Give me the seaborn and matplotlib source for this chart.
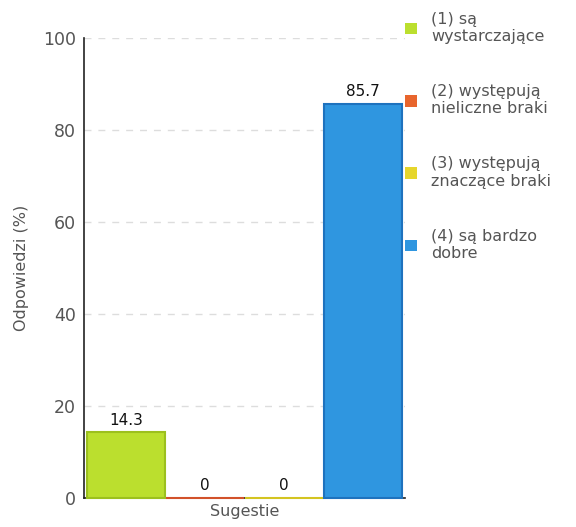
import pandas as pd
import matplotlib.pyplot as plt
import seaborn as sns
from matplotlib.patches import Patch
from matplotlib.ticker import MultipleLocator

categories = ['Sugestie']
answers = ['(1) są\nwystarczające', '(2) występują\nnieliczne braki',
           '(3) występują\nznaczące braki', '(4) są bardzo\ndobre']
values = [14.3, 0, 0, 85.7]
labels = ['14.3', '0', '0', '85.7']
colors = ['#BBDF2E', '#E8652D', '#E6D62C', '#2F96E0']
edges = ['#9CC01E', '#D2522A', '#D4C420', '#1E72BE']

df = pd.DataFrame({'kat': categories * len(answers), 'odp': answers, 'val': values})

sns.set_style('white')
plt.rcParams['font.family'] = 'sans-serif'
plt.rcParams['font.sans-serif'] = ['DejaVu Sans']

fig = plt.figure(figsize=(5.76, 5.27), dpi=100)
ax = fig.add_axes([0.146, 0.055, 0.557, 0.873])

sns.barplot(data=df, x='kat', y='val', hue='odp', palette=colors, saturation=1,
            width=0.985, gap=0.02, legend=False, ax=ax)

for bar, ec, lab in zip(ax.patches, edges, labels):
    bar.set_edgecolor(ec)
    bar.set_linewidth(1.5)
    bar.set_zorder(3)
    bar.set_clip_on(False)
    ax.text(bar.get_x() + bar.get_width() / 2, bar.get_height() + 1, lab,
            ha='center', va='bottom', fontsize=11, color='#111111')

ax.set_ylim(0, 100)
ax.set_xlim(-0.5, 0.5)
ax.yaxis.set_major_locator(MultipleLocator(20))
ax.yaxis.set_minor_locator(MultipleLocator(10))
ax.grid(axis='y', which='major', color='#DDDDDD', linestyle=(0, (5, 5)), linewidth=1)
ax.set_axisbelow(True)

for s in ['top', 'right']:
    ax.spines[s].set_visible(False)
for s in ['left', 'bottom']:
    ax.spines[s].set_color('#222222')
    ax.spines[s].set_linewidth(1.2)

ax.tick_params(axis='y', which='major', direction='inout', length=8, width=1.2,
               color='#222222', labelsize=12.5, labelcolor='#555555', pad=2)
ax.tick_params(axis='y', which='minor', direction='out', length=4, width=1.2, color='red')
ax.tick_params(axis='x', direction='inout', length=10, width=1.2, color='#222222',
               labelbottom=False)

ax.set_ylabel('Odpowiedzi (%)', fontsize=11.5, color='#555555', labelpad=10)
ax.set_xlabel('Sugestie', fontsize=11.5, color='#555555', labelpad=4)

handles = [Patch(facecolor=c, edgecolor='none') for c in colors]
fig.legend(handles, answers, loc='upper left', bbox_to_anchor=(0.678, 1.005),
           frameon=False, fontsize=11.5, labelcolor='#555555',
           handlelength=0.75, handleheight=0.75, handletextpad=0.9,
           labelspacing=2.5)

fig.savefig('out.png', dpi=100)
